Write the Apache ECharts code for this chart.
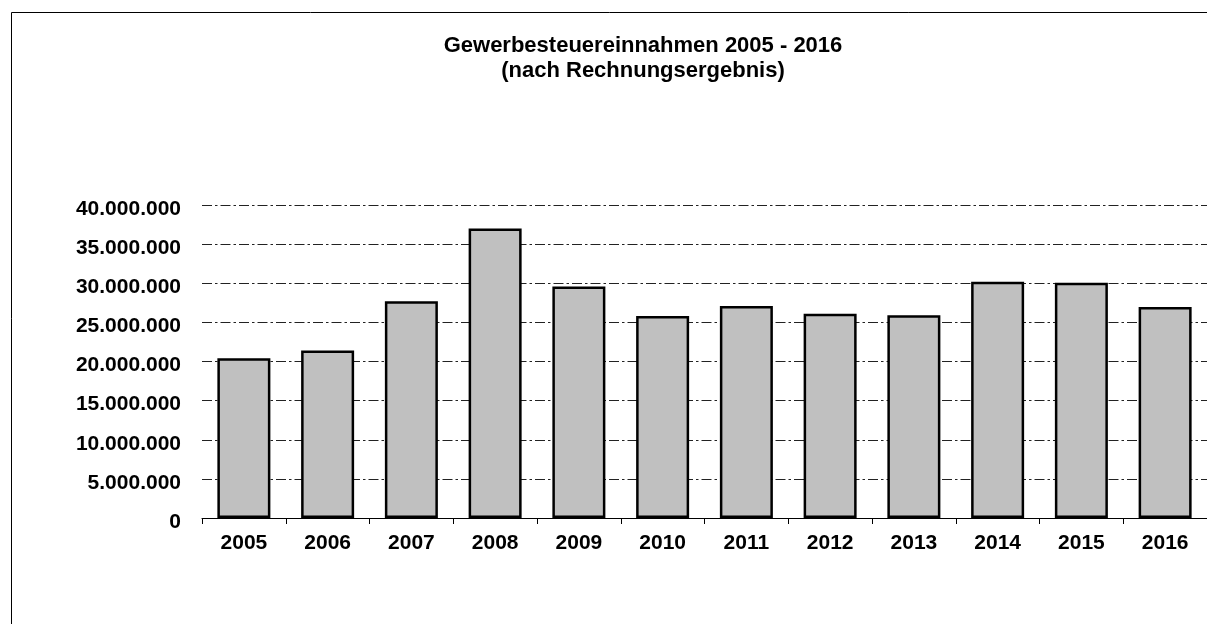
<!DOCTYPE html>
<html>
<head>
<meta charset="utf-8">
<title>Gewerbesteuereinnahmen 2005 - 2016</title>
<script src="https://cdn.jsdelivr.net/npm/echarts@6/dist/echarts.min.js"></script>
<style>
  html, body { margin: 0; padding: 0; background: #fff; }
  #chart { width: 1207px; height: 624px; }
</style>
</head>
<body>
<div id="chart"></div>
<script>
// Daten
var jahre = ["2005", "2006", "2007", "2008", "2009", "2010", "2011", "2012", "2013", "2014", "2015", "2016"];
var einnahmen = [20400000, 21400000, 27700000, 37000000, 29600000, 25800000, 27100000, 26100000, 25900000, 30200000, 30050000, 26950000];
var yMin = 0;
var yMax = 40000000;
var yStep = 5000000;

var schrift = "'Liberation Sans', Arial, sans-serif";

// Tausenderpunkt
function punkt(v) {
  return String(v).replace(/\B(?=(\d{3})+(?!\d))/g, ".");
}

var myChart = echarts.init(document.getElementById("chart"));

myChart.setOption({
  backgroundColor: "#ffffff",
  animation: false,
  title: {
    text: "Gewerbesteuereinnahmen 2005 - 2016\n(nach Rechnungsergebnis)",
    left: 638,
    top: 28,
    textAlign: "center",
    textStyle: {
      fontFamily: schrift,
      fontWeight: "bold",
      fontSize: 22,
      lineHeight: 25,
      color: "#000"
    }
  },
  // Rahmen
  graphic: [
    {
      type: "rect",
      silent: true,
      shape: { x: 11.5, y: 12.5, width: 1400, height: 800 },
      style: { fill: null, stroke: "#000", lineWidth: 1 }
    }
  ],
  grid: {
    left: 202,
    right: -6,
    top: 205,
    bottom: 106,
    containLabel: false
  },
  xAxis: {
    type: "category",
    data: jahre,
    axisLine: { lineStyle: { color: "#000", width: 1 } },
    axisTick: { show: true, length: 6, lineStyle: { color: "#000" } },
    axisLabel: {
      margin: 15,
      fontFamily: schrift,
      fontWeight: "bold",
      fontSize: 21,
      color: "#000"
    }
  },
  yAxis: {
    type: "value",
    min: yMin,
    max: yMax,
    interval: yStep,
    axisLine: { show: false },
    axisTick: { show: false },
    splitLine: {
      lineStyle: { color: "#222", width: 1, type: [10, 3, 2.5, 3] }
    },
    axisLabel: {
      margin: 21,
      verticalAlign: "top",
      lineHeight: 8,
      fontFamily: schrift,
      fontWeight: "bold",
      fontSize: 21,
      color: "#000",
      formatter: punkt
    }
  },
  series: [
    {
      type: "bar",
      data: einnahmen,
      barWidth: 53,
      itemStyle: {
        color: "#c0c0c0",
        borderColor: "#000",
        borderWidth: 2.5
      }
    }
  ]
});
</script>
</body>
</html>
